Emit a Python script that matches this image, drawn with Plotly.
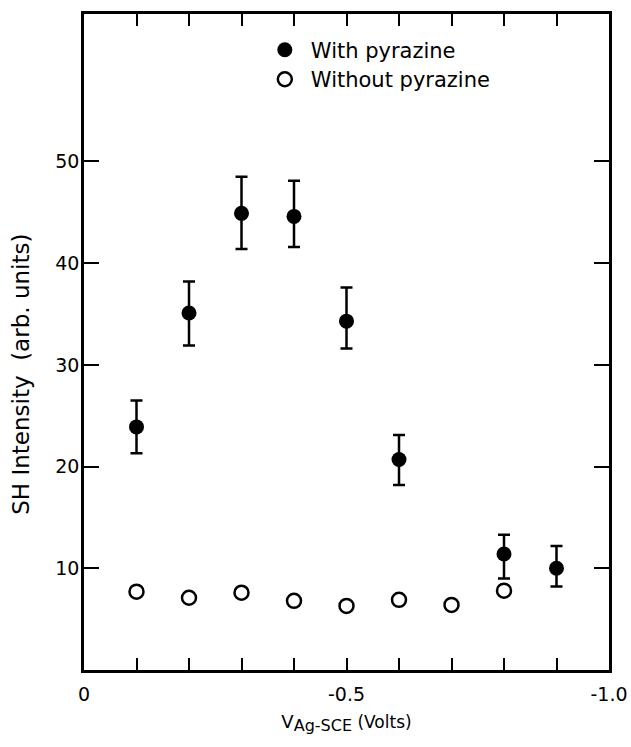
import plotly.graph_objects as go

# Potential (V vs SCE)
x_with = [-0.1, -0.2, -0.3, -0.4, -0.5, -0.6, -0.8, -0.9]
y_with = [23.9, 35.1, 44.9, 44.6, 34.3, 20.7, 11.4, 10.0]
err_plus = [2.6, 3.1, 3.6, 3.5, 3.3, 2.4, 1.9, 2.2]
err_minus = [2.6, 3.2, 3.5, 3.0, 2.7, 2.5, 2.4, 1.8]

x_without = [-0.1, -0.2, -0.3, -0.4, -0.5, -0.6, -0.7, -0.8]
y_without = [7.7, 7.1, 7.6, 6.8, 6.3, 6.9, 6.4, 7.8]

x_tickvals = [0, -0.1, -0.2, -0.3, -0.4, -0.5, -0.6, -0.7, -0.8, -0.9, -1.0]
x_ticktext = ["0", "", "", "", "", "-0.5", "", "", "", "", "-1.0"]
y_tickvals = [10, 20, 30, 40, 50]
y_ticktext = ["10", "20", "30", "40", "50"]

FONT = "DejaVu Sans"

fig = go.Figure()
fig.add_trace(go.Scatter(
    x=x_with, y=y_with, mode="markers", name="With pyrazine",
    marker=dict(symbol="circle", size=15, color="black"),
    error_y=dict(type="data", symmetric=False, array=err_plus, arrayminus=err_minus,
                 color="black", thickness=2.5, width=6),
    legend="legend", cliponaxis=False,
))
fig.add_trace(go.Scatter(
    x=x_without, y=y_without, mode="markers", name="Without pyrazine",
    marker=dict(symbol="circle-open", size=14, color="black", line=dict(width=2.5, color="black")),
    legend="legend2", cliponaxis=False,
))

axis_common = dict(
    showline=True, linecolor="black", linewidth=2.5, mirror="ticks",
    ticks="inside", tickcolor="black", tickwidth=2, showgrid=False, zeroline=False,
    tickfont=dict(family=FONT, size=19, color="black"), automargin=False,
)

fig.update_xaxes(
    range=[0, -1.0], tickmode="array", tickvals=x_tickvals, ticktext=x_ticktext,
    ticklen=12, ticklabelstandoff=5,
    title=dict(text="V<sub><span style='font-size:16px'>Ag-SCE</span></sub>"
                    "<span style='font-size:17px'> (Volts)</span>",
               font=dict(family=FONT, size=18, color="black"), standoff=12),
    **axis_common,
)
fig.update_yaxes(
    range=[0, 64.5], tickmode="array", tickvals=y_tickvals, ticktext=y_ticktext,
    ticklen=15, ticklabelstandoff=-2,
    **axis_common,
)

fig.add_annotation(
    text="SH Intensity  (arb. units)", textangle=-90,
    xref="paper", yref="paper", x=-0.12, y=0.45, xanchor="center", yanchor="middle",
    showarrow=False, font=dict(family=FONT, size=23, color="black"),
)

legend_common = dict(
    xanchor="left", yanchor="middle", bgcolor="rgba(0,0,0,0)", borderwidth=0,
    font=dict(family=FONT, size=21, color="black"), itemclick=False, itemwidth=42,
)
fig.update_layout(
    width=631, height=747,
    margin=dict(l=84, r=22, t=14, b=77),
    paper_bgcolor="white", plot_bgcolor="white",
    showlegend=True,
    legend=dict(x=0.333, y=0.945, **legend_common),
    legend2=dict(x=0.333, y=0.9, **legend_common),
)

fig.write_html("out.html", config={"displayModeBar": False},
               post_script="document.body.style.margin='0';")
